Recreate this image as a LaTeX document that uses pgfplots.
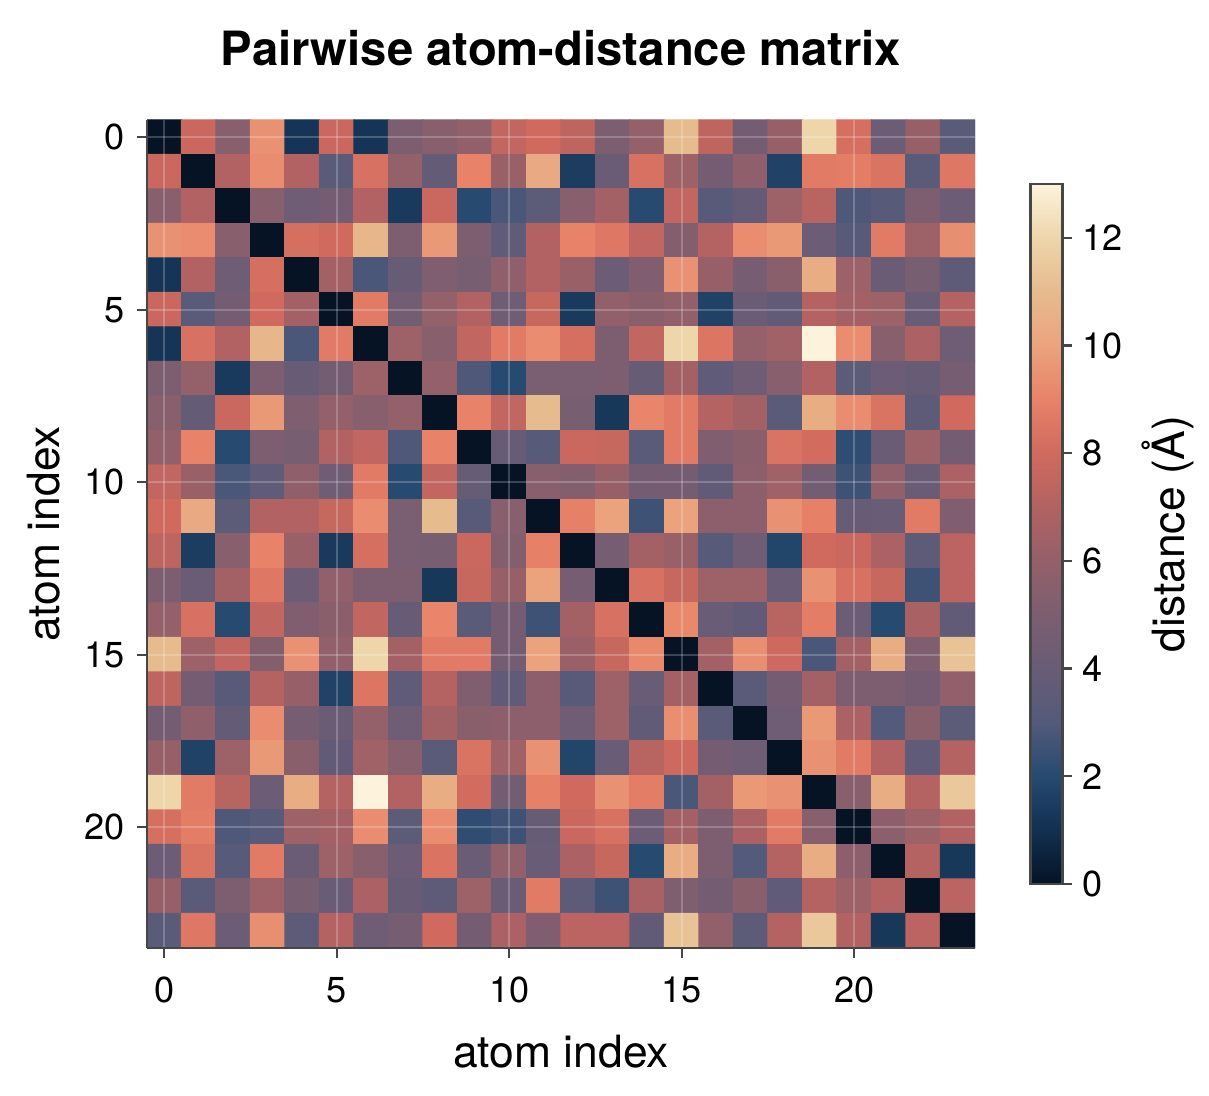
\documentclass[border=0pt]{standalone}
\usepackage{pgfplots}
\pgfplotsset{compat=1.18}
\usepackage{fontspec}
\setmainfont{TeX Gyre Heros}
\definecolor{spine}{RGB}{70,70,70}
\pgfplotsset{
  colormap={dist}{
    rgb255(0cm)=(5,19,37)
    rgb255(1cm)=(18,48,80)
    rgb255(2cm)=(38,74,112)
    rgb255(3cm)=(84,90,122)
    rgb255(4cm)=(104,92,118)
    rgb255(5cm)=(124,94,112)
    rgb255(6cm)=(148,96,106)
    rgb255(7cm)=(178,98,98)
    rgb255(8cm)=(208,106,94)
    rgb255(9cm)=(232,130,104)
    rgb255(10cm)=(235,163,126)
    rgb255(11cm)=(230,187,142)
    rgb255(12cm)=(238,213,170)
    rgb255(13cm)=(253,243,220)
  }
}
\begin{document}
\begin{tikzpicture}
\begin{axis}[
  name=main,
  scale only axis,
  width=298.08pt, height=298.08pt,
  xmin=-0.5, xmax=23.5, ymin=-0.5, ymax=23.5,
  y dir=reverse,
  enlargelimits=false,
  axis on top,
  axis x line*=bottom, axis y line*=left,
  axis line style={-, draw=spine, line width=0.9pt},
  tick align=outside,
  major tick length=3.5pt,
  every tick/.style={draw=spine, line width=0.8pt},
  xtick={0,5,10,15,20}, ytick={0,5,10,15,20},
  grid=major,
  major grid style={white, opacity=0.22, line width=0.8pt},
  /pgf/number format/assume math mode=true,
  tick label style={font=\fontsize{13}{15}\selectfont},
  xticklabel style={yshift=-3.5pt},
  yticklabel style={xshift=-1pt},
  label style={font=\fontsize{16}{19}\selectfont},
  xlabel={atom index}, ylabel={atom index},
  xlabel style={yshift=-4.5pt},
  ylabel style={yshift=2pt},
  title={\bfseries Pairwise atom-distance matrix},
  title style={font=\fontsize{17}{20}\selectfont, yshift=10pt},
  colormap name=dist,
  point meta min=0, point meta max=13,
  colorbar,
  colorbar style={
    scale only axis,
    width=11.5pt, height=252pt,
    at={(parent axis.east)}, anchor=west, xshift=11.5pt,
    ytick={0,2,...,12},
    ytick pos=right, yticklabel pos=right,
    tick align=outside,
    major tick length=3.5pt,
    every tick/.style={draw=spine, line width=0.8pt},
    axis line style={draw=spine, line width=0.9pt},
    ylabel={distance (Å)},
    ylabel near ticks,
    tick label style={font=\fontsize{13}{15}\selectfont},
    label style={font=\fontsize{16}{19}\selectfont},
    /pgf/number format/assume math mode=true,
  },
]
\addplot[matrix plot*, mesh/cols=24, point meta=explicit]
  table[row sep=\\, x expr={\coordindex-24*floor((\coordindex+0.5)/24)}, y expr={floor((\coordindex+0.5)/24)}, meta=c] {
c\\
0\\ 7.8\\ 5.5\\ 9.5\\ 1.2\\ 7.8\\ 1.2\\ 5.0\\ 5.5\\ 5.9\\ 7.5\\ 8.0\\ 7.4\\ 5.0\\ 6.0\\ 11.0\\ 7.4\\ 4.6\\ 6.1\\ 12.0\\ 8.2\\ 4.2\\ 6.1\\ 3.3\\
7.8\\ 0\\ 7.0\\ 9.3\\ 7.0\\ 3.3\\ 8.3\\ 6.0\\ 3.8\\ 9.0\\ 6.2\\ 10.3\\ 1.5\\ 4.1\\ 8.3\\ 6.3\\ 4.6\\ 5.8\\ 1.7\\ 8.7\\ 8.8\\ 8.4\\ 3.3\\ 8.6\\
5.5\\ 7.0\\ 0\\ 5.5\\ 4.3\\ 4.6\\ 7.0\\ 1.4\\ 7.8\\ 2.0\\ 2.8\\ 3.4\\ 5.5\\ 6.5\\ 2.0\\ 7.5\\ 3.2\\ 3.8\\ 6.3\\ 7.2\\ 2.9\\ 3.2\\ 5.0\\ 4.2\\
9.5\\ 9.3\\ 5.5\\ 0\\ 8.2\\ 8.0\\ 10.8\\ 5.0\\ 9.7\\ 5.0\\ 3.6\\ 7.0\\ 9.0\\ 8.6\\ 7.5\\ 5.3\\ 7.1\\ 9.3\\ 9.7\\ 4.2\\ 3.2\\ 8.7\\ 6.3\\ 9.4\\
1.2\\ 7.0\\ 4.3\\ 8.2\\ 0\\ 6.5\\ 2.8\\ 3.9\\ 5.1\\ 4.8\\ 5.8\\ 7.0\\ 6.2\\ 4.2\\ 5.2\\ 9.5\\ 6.1\\ 4.7\\ 5.6\\ 10.4\\ 6.3\\ 4.1\\ 4.8\\ 3.5\\
7.8\\ 3.3\\ 4.6\\ 8.0\\ 6.5\\ 0\\ 8.7\\ 4.5\\ 6.0\\ 7.0\\ 4.3\\ 7.7\\ 1.4\\ 5.9\\ 5.6\\ 5.9\\ 1.7\\ 4.1\\ 3.7\\ 7.1\\ 6.5\\ 6.3\\ 4.0\\ 7.1\\
1.2\\ 8.3\\ 7.0\\ 10.8\\ 2.8\\ 8.7\\ 0\\ 6.3\\ 5.5\\ 7.5\\ 8.7\\ 9.3\\ 8.2\\ 5.0\\ 7.5\\ 12.0\\ 8.5\\ 6.0\\ 6.4\\ 13.0\\ 9.3\\ 5.5\\ 6.8\\ 4.3\\
5.0\\ 6.0\\ 1.4\\ 5.0\\ 3.9\\ 4.5\\ 6.3\\ 0\\ 6.0\\ 2.9\\ 2.0\\ 4.9\\ 4.9\\ 5.0\\ 3.9\\ 6.5\\ 3.6\\ 4.3\\ 5.5\\ 7.0\\ 3.4\\ 4.2\\ 3.9\\ 4.7\\
5.5\\ 3.8\\ 7.8\\ 9.7\\ 5.1\\ 6.0\\ 5.5\\ 6.0\\ 0\\ 9.0\\ 7.5\\ 11.0\\ 4.8\\ 1.3\\ 9.1\\ 8.7\\ 7.1\\ 6.5\\ 3.3\\ 10.4\\ 9.3\\ 8.4\\ 3.5\\ 8.0\\
5.9\\ 9.0\\ 2.0\\ 5.0\\ 4.8\\ 7.0\\ 7.5\\ 2.9\\ 9.0\\ 0\\ 3.9\\ 3.2\\ 7.8\\ 7.7\\ 3.3\\ 8.7\\ 5.2\\ 5.6\\ 8.4\\ 8.1\\ 2.2\\ 4.1\\ 6.3\\ 4.6\\
7.5\\ 6.2\\ 2.8\\ 3.6\\ 5.8\\ 4.3\\ 8.7\\ 2.0\\ 7.5\\ 3.9\\ 0\\ 5.5\\ 5.3\\ 6.1\\ 4.6\\ 4.6\\ 3.7\\ 5.7\\ 6.4\\ 4.5\\ 2.5\\ 5.9\\ 4.1\\ 6.8\\
8.0\\ 10.3\\ 3.4\\ 7.0\\ 7.0\\ 7.7\\ 9.3\\ 4.9\\ 11.0\\ 3.2\\ 5.5\\ 0\\ 8.9\\ 10.0\\ 2.5\\ 10.0\\ 5.7\\ 5.7\\ 9.5\\ 8.9\\ 3.9\\ 4.0\\ 8.7\\ 5.2\\
7.4\\ 1.5\\ 5.5\\ 9.0\\ 6.2\\ 1.4\\ 8.2\\ 4.9\\ 4.8\\ 7.8\\ 5.3\\ 8.9\\ 0\\ 4.7\\ 6.5\\ 6.2\\ 3.2\\ 4.3\\ 1.8\\ 8.0\\ 7.8\\ 6.8\\ 3.5\\ 7.3\\
5.0\\ 4.1\\ 6.5\\ 8.6\\ 4.2\\ 5.9\\ 5.0\\ 5.0\\ 1.3\\ 7.7\\ 6.1\\ 10.0\\ 4.7\\ 0\\ 8.3\\ 7.7\\ 6.3\\ 6.3\\ 4.0\\ 9.5\\ 8.3\\ 7.7\\ 2.5\\ 7.3\\
6.0\\ 8.3\\ 2.0\\ 7.5\\ 5.2\\ 5.6\\ 7.5\\ 3.9\\ 9.1\\ 3.3\\ 4.6\\ 2.5\\ 6.5\\ 8.3\\ 0\\ 9.2\\ 4.0\\ 3.7\\ 7.2\\ 8.8\\ 4.2\\ 2.0\\ 6.7\\ 3.7\\
11.0\\ 6.3\\ 7.5\\ 5.3\\ 9.5\\ 5.9\\ 12.0\\ 6.5\\ 8.7\\ 8.7\\ 4.6\\ 10.0\\ 6.2\\ 7.7\\ 9.2\\ 0\\ 6.5\\ 9.4\\ 7.9\\ 2.8\\ 6.5\\ 10.4\\ 5.1\\ 11.3\\
7.4\\ 4.6\\ 3.2\\ 7.1\\ 6.1\\ 1.7\\ 8.5\\ 3.6\\ 7.1\\ 5.2\\ 3.7\\ 5.7\\ 3.2\\ 6.3\\ 4.0\\ 6.5\\ 0\\ 3.3\\ 4.6\\ 6.5\\ 5.0\\ 5.0\\ 4.6\\ 5.9\\
4.6\\ 5.8\\ 3.8\\ 9.3\\ 4.7\\ 4.1\\ 6.0\\ 4.3\\ 6.5\\ 5.6\\ 5.7\\ 5.7\\ 4.3\\ 6.3\\ 3.7\\ 9.4\\ 3.3\\ 0\\ 4.3\\ 9.7\\ 6.8\\ 3.0\\ 5.6\\ 3.4\\
6.1\\ 1.7\\ 6.3\\ 9.7\\ 5.6\\ 3.7\\ 6.4\\ 5.5\\ 3.3\\ 8.4\\ 6.4\\ 9.5\\ 1.8\\ 4.0\\ 7.2\\ 7.9\\ 4.6\\ 4.3\\ 0\\ 9.5\\ 8.7\\ 7.1\\ 3.6\\ 7.1\\
12.0\\ 8.7\\ 7.2\\ 4.2\\ 10.4\\ 7.1\\ 13.0\\ 7.0\\ 10.4\\ 8.1\\ 4.5\\ 8.9\\ 8.0\\ 9.5\\ 8.8\\ 2.8\\ 6.5\\ 9.7\\ 9.5\\ 0\\ 5.5\\ 10.4\\ 7.1\\ 11.5\\
8.2\\ 8.8\\ 2.9\\ 3.2\\ 6.3\\ 6.5\\ 9.3\\ 3.4\\ 9.3\\ 2.2\\ 2.5\\ 3.9\\ 7.8\\ 8.3\\ 4.2\\ 6.5\\ 5.0\\ 6.8\\ 8.7\\ 5.5\\ 0\\ 5.7\\ 6.3\\ 7.0\\
4.2\\ 8.4\\ 3.2\\ 8.7\\ 4.1\\ 6.3\\ 5.5\\ 4.2\\ 8.4\\ 4.1\\ 5.9\\ 4.0\\ 6.8\\ 7.7\\ 2.0\\ 10.4\\ 5.0\\ 3.0\\ 7.1\\ 10.4\\ 5.7\\ 0\\ 7.1\\ 1.3\\
6.1\\ 3.3\\ 5.0\\ 6.3\\ 4.8\\ 4.0\\ 6.8\\ 3.9\\ 3.5\\ 6.3\\ 4.1\\ 8.7\\ 3.5\\ 2.5\\ 6.7\\ 5.1\\ 4.6\\ 5.6\\ 3.6\\ 7.1\\ 6.3\\ 7.1\\ 0\\ 7.3\\
3.3\\ 8.6\\ 4.2\\ 9.4\\ 3.5\\ 7.1\\ 4.3\\ 4.7\\ 8.0\\ 4.6\\ 6.8\\ 5.2\\ 7.3\\ 7.3\\ 3.7\\ 11.3\\ 5.9\\ 3.4\\ 7.1\\ 11.5\\ 7.0\\ 1.3\\ 7.3\\ 0\\
};
\end{axis}
\pgfresetboundingbox
\path[use as bounding box] ([xshift=-52.92pt,yshift=-53.28pt]main.south west) rectangle ([xshift=84.24pt,yshift=43.2pt]main.north east);
\end{tikzpicture}
\end{document}
